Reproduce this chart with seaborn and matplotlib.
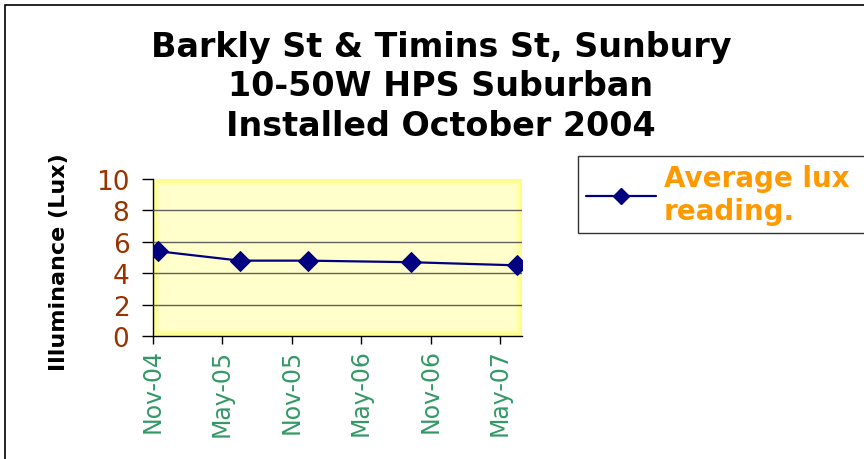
import numpy as np
import pandas as pd
import matplotlib
matplotlib.use("Agg")
import matplotlib.pyplot as plt
import matplotlib.dates as mdates
from matplotlib.lines import Line2D
from matplotlib.patches import Rectangle
import seaborn as sns

# data
reading_dates = ["2004-11-14", "2005-06-17", "2005-12-12", "2006-09-10", "2007-06-15"]
avg_lux = [5.4, 4.8, 4.8, 4.7, 4.5]
series_name = "Average lux\nreading."
title_lines = ["Barkly St & Timins St, Sunbury", "10-50W HPS Suburban", "Installed October 2004"]
x_start, x_end = "2004-11-01", "2007-06-28"
y_ticks = [0, 2, 4, 6, 8, 10]

df = pd.DataFrame({"date": pd.to_datetime(reading_dates), "lux": avg_lux})

sns.set_theme(style="white")
plt.rcParams["font.family"] = ["DejaVu Sans"]

W, H = 864, 460
fig = plt.figure(figsize=(W / 100, H / 100), dpi=100)
ax = fig.add_axes([153 / W, 1 - 337 / H, (522 - 153) / W, (337 - 180) / H])

# yellow plot-area fill, brighter towards the edges
ny, nx = 157, 369
yy, xx = np.mgrid[0:ny, 0:nx]
d = np.minimum.reduce([xx, nx - 1 - xx, yy, ny - 1 - yy]).astype(float)
t = np.clip(d / 7.0, 0, 1)[..., None]
edge = np.array([1.0, 1.0, 0.50])
centre = np.array([1.0, 1.0, 0.80])
img = edge * (1 - t) + centre * t
ax.imshow(img, extent=[0, 1, 0, 1], transform=ax.transAxes, aspect="auto", zorder=0)

sns.lineplot(data=df, x="date", y="lux", ax=ax, color="#000080", marker="D",
             markersize=10, markeredgecolor="#000080", linewidth=1.6, zorder=3,
             legend=False)

ax.set_xlim(pd.Timestamp(x_start), pd.Timestamp(x_end))
ax.set_ylim(0, 10)
ax.set_yticks(y_ticks)
ax.xaxis.set_major_locator(mdates.MonthLocator(bymonth=[5, 11]))
ax.xaxis.set_major_formatter(mdates.DateFormatter("%b-%y"))

ax.yaxis.grid(True, color="#606060", linewidth=1)
ax.set_axisbelow(False)
for gl in ax.get_ygridlines():
    gl.set_zorder(1)
ax.get_ygridlines()[-1].set_visible(False)
ax.get_ygridlines()[0].set_visible(False)

for side in ["top", "right"]:
    ax.spines[side].set_visible(False)
for side in ["left", "bottom"]:
    ax.spines[side].set_color("black")
    ax.spines[side].set_linewidth(1)

ax.tick_params(axis="y", direction="out", length=8, width=1, colors="black",
               labelcolor="#993300", labelsize=19, pad=9, left=True)
ax.tick_params(axis="x", direction="out", length=6, width=1, colors="black",
               labelcolor="#339966", labelsize=17, pad=3, bottom=True)
plt.setp(ax.get_xticklabels(), rotation=90, ha="center", va="top")

ax.set_xlabel("")
ax.set_ylabel("Illuminance (Lux)", fontsize=16, fontweight="bold", color="black")
ax.yaxis.set_label_coords(-0.228, 0.48)

fig.text(441 / W, 1 - 87 / H, "\n".join(title_lines), ha="center", va="center",
         fontsize=24, fontweight="bold", color="black", linespacing=1.25)

handle = Line2D([], [], color="#000080", marker="D", markersize=8, linewidth=1.6)
leg = fig.legend([handle], [series_name], loc="upper left",
                 bbox_to_anchor=(578 / W, 1 - 157 / H, 0.5, 0), mode="expand",
                 prop={"weight": "bold", "size": 20}, frameon=True, fancybox=False,
                 borderpad=0.3, handlelength=2.5, handletextpad=0.3,
                 borderaxespad=0)
leg.get_frame().set_edgecolor("black")
leg.get_frame().set_linewidth(1)
for txt in leg.get_texts():
    txt.set_color("#FF9900")

# chart border (cut off on the right and bottom in the reference)
fig.patches.append(Rectangle((5 / W, -0.1), 1.2, 1.1 - 6 / H, transform=fig.transFigure,
                             fill=False, edgecolor="black", linewidth=1.2))

fig.savefig("out.png", dpi=100)
